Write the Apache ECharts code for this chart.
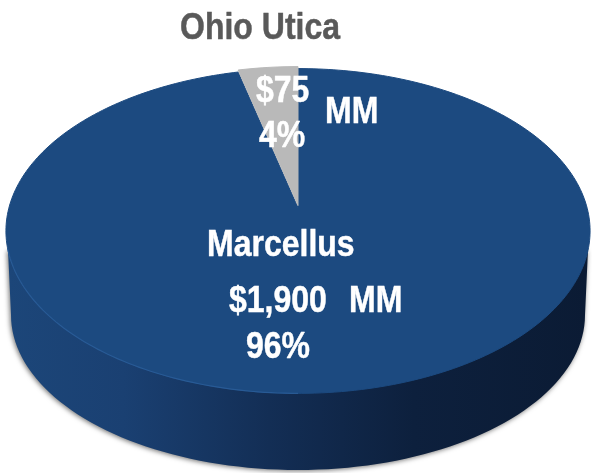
<!DOCTYPE html>
<html>
<head>
<meta charset="utf-8">
<style>
  html, body { margin: 0; padding: 0; background: #fff; }
  #chart { width: 592px; height: 473px; filter: blur(0.4px); }
</style>
<script src="https://cdn.jsdelivr.net/npm/echarts@6/dist/echarts.min.js"></script>
</head>
<body>
<div id="chart"></div>
<script>
var categories = ['Marcellus', 'Ohio Utica']
var amounts = [1900, 75]
var unit = 'MM'

var total = amounts[0] + amounts[1]
var font = 'bold 32px "Liberation Sans", Arial, sans-serif'

// the pie lies on a tilted plane, so its centre sits above the middle of the ellipse
var view = { x: 298, y: 207.5, k: 289, h: 159, p: 0.1446 }

function project(a) {
  var u = Math.sin(a)
  var v = Math.cos(a)
  var d = 1 + view.p * v
  return [view.x + view.k * u / d, view.y - view.h * v / d]
}

function arc(from, to) {
  var pts = []
  var n = Math.max(2, Math.ceil((to - from) / 0.02))
  for (var i = 0; i <= n; i++) {
    pts.push(project(from + (to - from) * i / n))
  }
  return pts
}

// outline of the pie's wall, the part above the curve stays hidden under the top face
function wallOutline() {
  var pts = [[8, 250], [588, 250]]
  for (var i = 0; i <= 180; i += 2) {
    var a = i * Math.PI / 180
    pts.push([298 + 287 * Math.cos(a), 315 + 155 * Math.sin(a)])
  }
  return pts
}

function label(text, x, y, color) {
  return {
    type: 'text',
    x: x,
    y: y,
    scaleY: 1.17,
    silent: true,
    style: {
      text: text, x: 0, y: 0, font: font, fill: color,
      stroke: color, lineWidth: 0.4, align: 'left', verticalAlign: 'middle'
    }
  }
}

function money(v) {
  return '$' + v.toLocaleString('en-US')
}

function percent(v) {
  return Math.round(v / total * 100) + '%'
}

function renderBase() {
  return {
    type: 'polygon',
    shape: { points: wallOutline() },
    style: {
      fill: new echarts.graphic.LinearGradient(0, 0, 1, 0, [
        { offset: 0, color: '#1c4679' },
        { offset: 0.2, color: '#1a4072' },
        { offset: 0.45, color: '#132e55' },
        { offset: 0.7, color: '#0d203d' },
        { offset: 1, color: '#0b1b34' }
      ]),
      shadowColor: 'rgba(0,0,0,0.55)',
      shadowBlur: 5,
      shadowOffsetX: -1,
      shadowOffsetY: 1
    }
  }
}

function renderSlice(params, api) {
  var i = params.dataIndex
  var before = 0
  for (var j = 0; j < i; j++) before += amounts[j]
  var from = before / total * Math.PI * 2
  var to = (before + api.value(0)) / total * Math.PI * 2
  var pts = [[view.x, view.y]].concat(arc(from, to))
  var color = i === 0 ? '#1c4a80' : '#b9b9b9'
  return {
    type: 'polygon',
    y: i === 0 ? 0 : -2,
    shape: { points: pts },
    style: { fill: color, stroke: color, lineWidth: 1 }
  }
}

function renderRim() {
  return {
    type: 'polyline',
    shape: { points: arc(Math.PI, Math.PI * 1.42) },
    style: { fill: null, stroke: '#2c5f9b', lineWidth: 1.2, opacity: 0.8 }
  }
}

function renderLabels() {
  return {
    type: 'group',
    children: [
      label(categories[1], 180, 29, '#595959'),
      label(money(amounts[1]), 256, 92, '#ffffff'),
      label(unit, 325, 113, '#ffffff'),
      label(percent(amounts[1]), 259, 137, '#ffffff'),
      label(categories[0], 207, 246, '#ffffff'),
      label(money(amounts[0]), 229, 302, '#ffffff'),
      label(unit, 349, 302, '#ffffff'),
      label(percent(amounts[0]), 246, 348, '#ffffff')
    ]
  }
}

var chart = echarts.init(document.getElementById('chart'))
chart.setOption({
  animation: false,
  backgroundColor: '#ffffff',
  series: [
    { type: 'custom', coordinateSystem: 'none', silent: true, z: 1, data: [total], renderItem: renderBase },
    { type: 'custom', coordinateSystem: 'none', silent: true, z: 2, data: amounts, renderItem: renderSlice },
    { type: 'custom', coordinateSystem: 'none', silent: true, z: 3, data: [total], renderItem: renderRim },
    { type: 'custom', coordinateSystem: 'none', silent: true, z: 4, data: [total], renderItem: renderLabels }
  ]
})
</script>
</body>
</html>
